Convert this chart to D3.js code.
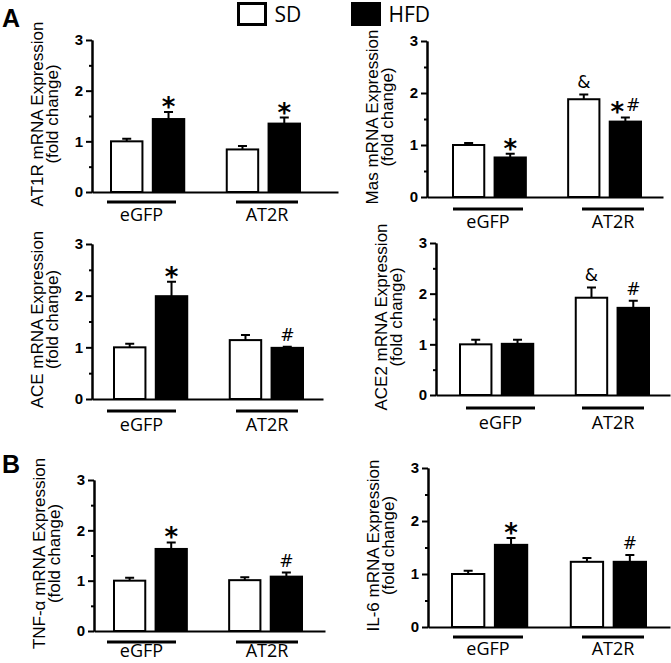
<!DOCTYPE html>
<html>
<head>
<meta charset="utf-8">
<script src="https://cdn.jsdelivr.net/npm/d3@7"></script>
<style>
  body { margin: 0; background: #fff; }
  svg { display: block; }
</style>
</head>
<body>
<div id="graph"></div>
<script>
"use strict";

let width = 671,
    height = 663;

// data
const groups = ["eGFP", "AT2R"];
const diets = ["SD", "HFD"];
const yTicks = [0, 1, 2, 3];
const yMinor = [0.5, 1.5, 2.5];
const genes = ["AT1R", "Mas", "ACE", "ACE2", "TNF-\u03b1", "IL-6"];

// order: eGFP SD, eGFP HFD, AT2R SD, AT2R HFD
const meanAT1R = [1.00, 1.44, 0.84, 1.35];
const semAT1R  = [0.05, 0.14, 0.07, 0.12];
const markAT1R = ["", "*", "", "*"];

const meanMas = [1.00, 0.76, 1.88, 1.45];
const semMas  = [0.04, 0.07, 0.09, 0.08];
const markMas = ["", "*", "&", "*#"];

const meanACE = [1.00, 1.99, 1.14, 0.99];
const semACE  = [0.07, 0.28, 0.10, 0.02];
const markACE = ["", "*", "", "#"];

const meanACE2 = [1.00, 1.01, 1.92, 1.72];
const semACE2  = [0.09, 0.08, 0.20, 0.14];
const markACE2 = ["", "", "&", "#"];

const meanTNF = [1.00, 1.63, 1.01, 1.08];
const semTNF  = [0.06, 0.13, 0.06, 0.08];
const markTNF = ["", "*", "", "#"];

const meanIL6 = [1.00, 1.55, 1.23, 1.23];
const semIL6  = [0.06, 0.13, 0.07, 0.13];
const markIL6 = ["", "*", "", "#"];

const means = [meanAT1R, meanMas, meanACE, meanACE2, meanTNF, meanIL6];
const sems  = [semAT1R, semMas, semACE, semACE2, semTNF, semIL6];
const marks = [markAT1R, markMas, markACE, markACE2, markTNF, markIL6];

// where each small panel sits on the page
const layout = [
    { x0: 92,  x1: 338, bars: [110, 301], y0: 192, y3: 40,  ul: [[107, 176], [236, 298]], ulY: 202, labY: 221 },
    { x0: 427, x1: 663, bars: [452, 642], y0: 197, y3: 41,  ul: [[453, 523], [582, 644]], ulY: 209, labY: 228 },
    { x0: 92,  x1: 323, bars: [113, 304], y0: 399, y3: 244, ul: [[107, 176], [236, 298]], ulY: 411, labY: 431 },
    { x0: 436, x1: 670, bars: [459, 650], y0: 395, y3: 243, ul: [[466, 535], [582, 644]], ulY: 408, labY: 429 },
    { x0: 94,  x1: 325, bars: [113, 303], y0: 631, y3: 480, ul: [[107, 176], [236, 298]], ulY: 642, labY: 657 },
    { x0: 428, x1: 670, bars: [451, 647], y0: 627, y3: 468, ul: [[453, 523], [582, 644]], ulY: 637, labY: 655 },
];

const sansBold = "'Liberation Sans', Arial, sans-serif";
const labelFont = "'Open Sans', 'Noto Sans', sans-serif";

let svg = "";

window.onload = function () {
    svg = d3.select("#graph")
        .append("svg")
        .attr("width", width)
        .attr("height", height);

    makeLegend();
    makePanelLetters();

    genes.forEach(function (gene, i) {
        makePanel(i, gene);
    });
};

function makePanel(i, gene) {
    let L = layout[i];
    let g = svg.append("g").attr("class", "panel");

    let y = d3.scaleLinear().domain([0, 3]).range([L.y0, L.y3]);

    let xGroup = d3.scaleBand()
        .domain(groups)
        .range(L.bars)
        .paddingInner(0.35)
        .paddingOuter(0);

    let xDiet = d3.scaleBand()
        .domain(diets)
        .range([0, xGroup.bandwidth()])
        .paddingInner(0.2);

    let rows = [];
    groups.forEach(function (grp, gi) {
        diets.forEach(function (diet, di) {
            let k = gi * 2 + di;
            rows.push({ group: grp, diet: diet, mean: means[i][k], sem: sems[i][k], mark: marks[i][k] });
        });
    });

    let barX = (d) => xGroup(d.group) + xDiet(d.diet);
    let barMid = (d) => barX(d) + xDiet.bandwidth() / 2;

    // error bars (upper only), drawn under the bars
    g.selectAll(".err")
        .data(rows)
        .enter()
        .append("path")
        .attr("class", "err")
        .attr("fill", "none")
        .attr("stroke", "#000")
        .attr("stroke-width", 2)
        .attr("d", function (d) {
            let cx = barMid(d), top = y(d.mean + d.sem);
            return "M" + cx + "," + y(d.mean) + "V" + top + "M" + (cx - 4.5) + "," + top + "H" + (cx + 4.5);
        });

    g.selectAll(".bar")
        .data(rows)
        .enter()
        .append("rect")
        .attr("class", "bar")
        .attr("x", (d) => barX(d) + 1)
        .attr("width", xDiet.bandwidth() - 2)
        .attr("y", (d) => y(d.mean))
        .attr("height", (d) => y(0) - y(d.mean))
        .attr("fill", (d) => d.diet == "SD" ? "#fff" : "#000")
        .attr("stroke", "#000")
        .attr("stroke-width", 2);

    // significance marks
    let marked = rows.filter((d) => d.mark != "");
    let txt = g.selectAll(".mark")
        .data(marked)
        .enter()
        .append("text")
        .attr("class", "mark")
        .attr("x", barMid)
        .attr("y", (d) => y(d.mean + d.sem) - (d.mark.indexOf("&") >= 0 ? 7 : 6))
        .attr("text-anchor", "middle")
        .style("font-family", "'DejaVu Sans', sans-serif")
        .style("font-size", "17px");

    txt.each(function (d) {
        let t = d3.select(this);
        let chars = d.mark.split("");
        chars.forEach(function (c, ci) {
            let s = t.append("tspan").text(c);
            if (c == "*") {
                s.style("font-size", "26px").style("font-weight", "bold").attr("dy", ci == 0 ? 10 : 0);
            } else if (ci > 0 && chars[ci - 1] == "*") {
                s.attr("dy", -10).attr("dx", 2);
            }
        });
    });

    // y axis
    g.append("g")
        .attr("transform", "translate(" + L.x0 + ",0)")
        .call(d3.axisLeft(y).tickValues(yMinor).tickSize(3).tickSizeOuter(0).tickFormat(""))
        .call(styleAxis);

    g.append("g")
        .attr("transform", "translate(" + L.x0 + ",0)")
        .call(d3.axisLeft(y).tickValues(yTicks).tickSize(6).tickPadding(3).tickSizeOuter(0).tickFormat(d3.format("d")))
        .call(styleAxis)
        .selectAll("text")
        .style("font-family", sansBold)
        .style("font-weight", "bold")
        .style("font-size", "15px")
        .attr("fill", "#000");

    // x axis line
    let xLine = d3.scaleLinear().domain([0, 1]).range([L.x0, L.x1]);
    g.append("g")
        .attr("transform", "translate(0," + L.y0 + ")")
        .call(d3.axisBottom(xLine).tickValues([]).tickSizeOuter(0))
        .call(styleAxis);

    // group underlines and labels
    groups.forEach(function (grp, gi) {
        let u = L.ul[gi];
        g.append("line")
            .attr("x1", u[0]).attr("x2", u[1])
            .attr("y1", L.ulY).attr("y2", L.ulY)
            .attr("stroke", "#000")
            .attr("stroke-width", 3);
        g.append("text")
            .attr("x", (u[0] + u[1]) / 2)
            .attr("y", L.labY)
            .attr("text-anchor", "middle")
            .style("font-family", labelFont)
            .style("font-size", "18px")
            .text(grp);
    });

    makeYTitle(g, L, gene + " mRNA Expression", "(fold change)");
}

function styleAxis(sel) {
    sel.select(".domain").attr("stroke", "#000").attr("stroke-width", 2);
    sel.selectAll(".tick line").attr("stroke", "#000").attr("stroke-width", 2);
}

function makeYTitle(g, L, line1, line2) {
    let cy = (L.y0 + L.y3) / 2 - 2;
    g.append("text")
        .attr("transform", "translate(" + (L.x0 - 49) + "," + cy + ") rotate(-90)")
        .attr("text-anchor", "middle")
        .style("font-family", sansBold)
        .style("font-size", "17px")
        .text(line1);
    g.append("text")
        .attr("transform", "translate(" + (L.x0 - 34) + "," + cy + ") rotate(-90)")
        .attr("text-anchor", "middle")
        .style("font-family", sansBold)
        .style("font-size", "17px")
        .text(line2);
}

function makeLegend() {
    let leg = svg.append("g").attr("class", "legend");
    let items = [
        { name: diets[0], x: 238.5, fill: "#fff" },
        { name: diets[1], x: 352.5, fill: "#000" },
    ];
    items.forEach(function (it) {
        leg.append("rect")
            .attr("x", it.x).attr("y", 3.5)
            .attr("width", 27).attr("height", 21)
            .attr("fill", it.fill)
            .attr("stroke", "#000")
            .attr("stroke-width", 3);
        leg.append("text")
            .attr("x", it.x + 36)
            .attr("y", 22)
            .style("font-family", labelFont)
            .style("font-size", "21px")
            .text(it.name);
    });
}

function makePanelLetters() {
    svg.append("text")
        .attr("x", 2).attr("y", 27)
        .style("font-family", sansBold)
        .style("font-weight", "bold")
        .style("font-size", "25px")
        .text("A");
    svg.append("text")
        .attr("x", 2).attr("y", 473)
        .style("font-family", sansBold)
        .style("font-weight", "bold")
        .style("font-size", "25px")
        .text("B");
}
</script>
</body>
</html>
